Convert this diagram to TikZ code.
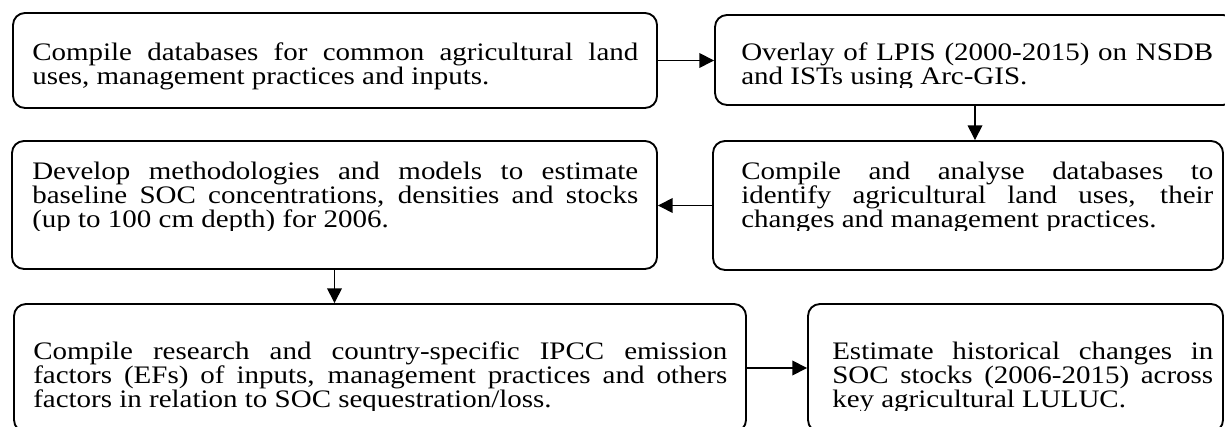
\documentclass[tikz,border=0pt]{standalone}
\usepackage{fontspec}
\setmainfont{Liberation Serif}[FakeStretch=1.15]
\usetikzlibrary{arrows.meta,fit}
\hyphenpenalty=10000
\exhyphenpenalty=10000
\tolerance=9999
\tikzset{
  box/.style={draw, line width=1.4pt, rounded corners=9pt, inner sep=0pt},
  txt/.style={anchor=base west, inner sep=0pt, align=justify, font=\fontsize{18.9}{18}\selectfont},
  conn/.style={line width=1pt, -{Triangle[length=11pt,width=11pt]}},
}
\begin{document}
\begin{tikzpicture}[x=0.75pt,y=-0.75pt]
\clip (0,0) rectangle (1225,427);
\fill[white] (0,0) rectangle (1225,427);
% boxes
\node[box, fit={(13,13) (657,108)}] (b1) {};
\node[box, fit={(715,15) (1235,105)}] (b2) {};
\node[box, fit={(12,141) (657,269)}] (b3) {};
\node[box, fit={(713,141) (1223,270)}] (b4) {};
\node[box, fit={(14,304) (746,432)}] (b5) {};
\node[box, fit={(808,304) (1223,432)}] (b6) {};
% texts
\node[txt, text width=454.5pt] (t1) at (32,61) {Compile databases for common agricultural land uses, management practices and inputs.};
\begin{scope}
\clip (715,15) rectangle (1225,88);
\node[txt, text width=354pt] (t2) at (741,61) {Overlay of LPIS (2000-2015) on NSDB and ISTs using Arc-GIS.};
\end{scope}
\begin{scope}
\clip (12,141) rectangle (657,231);
\node[txt, text width=454.5pt] (t3) at (32,180) {Develop methodologies and models to estimate baseline SOC concentrations, densities and stocks (up to 100 cm depth) for 2006.};
\end{scope}
\begin{scope}
\clip (713,141) rectangle (1223,231);
\node[txt, text width=354pt] (t4) at (741,180) {Compile and analyse databases to identify agricultural land uses, their changes and management practices.};
\end{scope}
\begin{scope}
\clip (14,304) rectangle (746,411);
\node[txt, text width=520.5pt] (t5) at (33,360) {Compile research and country-specific IPCC emission factors (EFs) of inputs, management practices and others factors in relation to SOC sequestration/loss.};
\end{scope}
\begin{scope}
\clip (808,304) rectangle (1223,411);
\node[txt, text width=285.75pt] (t6) at (832,360) {Estimate historical changes in SOC stocks (2006-2015) across key agricultural LULUC.};
\end{scope}
% connectors
\draw[conn] (b1.east) -- (b1.east -| b2.west);
\draw[conn] (b2.south) -- (b2.south |- b4.north);
\draw[conn] (b4.west) -- (b4.west -| b3.east);
\draw[conn] (b3.south) -- (b3.south |- b5.north);
\draw[conn] (b5.east) -- (b5.east -| b6.west);
\end{tikzpicture}
\end{document}
